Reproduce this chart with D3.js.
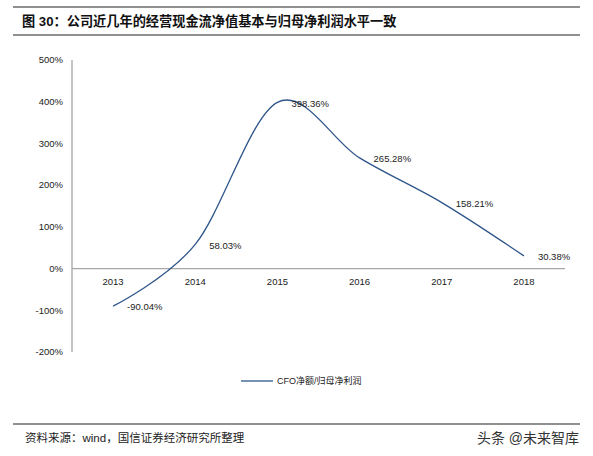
<!DOCTYPE html>
<html lang="zh">
<head>
  <meta charset="UTF-8" />
  <title>CFO净额/归母净利润</title>
  <script src="https://unpkg.com/d3@7/dist/d3.min.js"></script>
  <style>
    body { margin: 0; background: #fff; }
    svg { display: block; }
    .tick-label { font-family: "Liberation Sans", Arial, sans-serif; font-size: 9.5px; fill: #222; }
    .val-label  { font-family: "Liberation Sans", Arial, sans-serif; font-size: 9.5px; fill: #222; }
    .cjk { font-family: "Liberation Sans", "Noto Sans CJK SC", sans-serif; }
  </style>
</head>
<body>
  <svg id="chart" width="593" height="456"></svg>
  <script>
  const years   = ["2013", "2014", "2015", "2016", "2017", "2018"];
  const ratio   = [-90.04, 58.03, 398.36, 265.28, 158.21, 30.38];
  const yTicks  = [-200, -100, 0, 100, 200, 300, 400, 500];
  const seriesName = "CFO净额/归母净利润";

  const svg = d3.select("#chart");
  const plot = { left: 72, right: 565, top: 60, bottom: 352 };

  // header and footer rules
  svg.append("line").attr("x1", 13).attr("x2", 580).attr("y1", 7).attr("y2", 7)
    .attr("stroke", "#222").attr("stroke-width", 1.2);
  svg.append("line").attr("x1", 13).attr("x2", 580).attr("y1", 35).attr("y2", 35)
    .attr("stroke", "#222").attr("stroke-width", 1.2);
  svg.append("line").attr("x1", 13).attr("x2", 580).attr("y1", 424).attr("y2", 424)
    .attr("stroke", "#222").attr("stroke-width", 1);

  svg.append("text").attr("class", "cjk")
    .attr("x", 22).attr("y", 26)
    .style("font-size", "13.2px").style("font-weight", "bold").style("fill", "#111")
    .text("图 30：公司近几年的经营现金流净值基本与归母净利润水平一致");

  svg.append("text").attr("class", "cjk")
    .attr("x", 25).attr("y", 442)
    .style("font-size", "11.5px").style("fill", "#222")
    .text("资料来源：wind，国信证券经济研究所整理");

  svg.append("text").attr("class", "cjk")
    .attr("x", 579).attr("y", 443).attr("text-anchor", "end")
    .style("font-size", "14px").style("fill", "#333")
    .text("头条 @未来智库");

  const x = d3.scaleBand().domain(years).range([plot.left, plot.right]);
  const y = d3.scaleLinear().domain([-200, 500]).range([plot.bottom, plot.top]);

  // y axis
  svg.append("line")
    .attr("x1", plot.left).attr("x2", plot.left)
    .attr("y1", y(500)).attr("y2", y(-200))
    .attr("stroke", "#a6a6a6").attr("stroke-width", 1.3);

  svg.selectAll(".ytick").data(yTicks).join("text")
    .attr("class", "tick-label")
    .attr("x", plot.left - 9)
    .attr("y", d => y(d))
    .attr("dy", "0.35em")
    .attr("text-anchor", "end")
    .text(d => d + "%");

  // zero line with category labels
  svg.append("line")
    .attr("x1", plot.left).attr("x2", plot.right)
    .attr("y1", y(0)).attr("y2", y(0))
    .attr("stroke", "#a6a6a6").attr("stroke-width", 1.3);

  svg.selectAll(".xtick").data(years).join("text")
    .attr("class", "tick-label")
    .attr("x", d => x(d) + x.bandwidth() / 2)
    .attr("y", y(0) + 16)
    .attr("text-anchor", "middle")
    .text(d => d);

  const pts = years.map((yr, i) => [x(yr) + x.bandwidth() / 2, y(ratio[i])]);

  svg.append("path")
    .attr("d", d3.line().curve(d3.curveCardinal.tension(0))(pts))
    .attr("fill", "none")
    .attr("stroke", "#2e5589")
    .attr("stroke-width", 1.3);

  svg.selectAll(".val").data(ratio).join("text")
    .attr("class", "val-label")
    .attr("x", (d, i) => pts[i][0] + 14)
    .attr("y", (d, i) => pts[i][1] + 1)
    .attr("dy", "0.35em")
    .text(d => d.toFixed(2) + "%");

  // legend
  svg.append("line")
    .attr("x1", 241).attr("x2", 273).attr("y1", 381).attr("y2", 381)
    .attr("stroke", "#2e5589").attr("stroke-width", 1.3);
  svg.append("text").attr("class", "cjk")
    .attr("x", 277).attr("y", 381).attr("dy", "0.35em")
    .style("font-size", "9px").style("fill", "#222")
    .text(seriesName);
  </script>
</body>
</html>
